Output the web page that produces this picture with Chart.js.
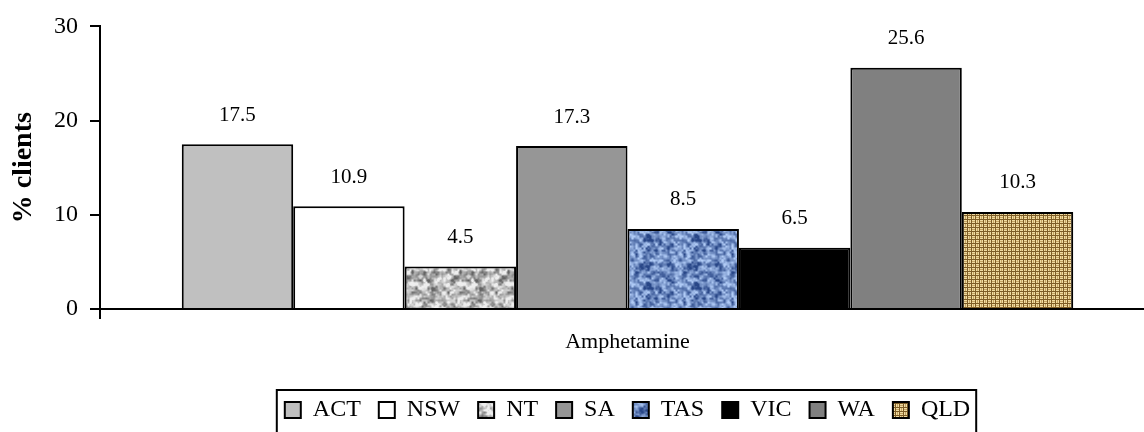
<!DOCTYPE html>
<html>
<head>
<meta charset="utf-8">
<script src="https://cdn.jsdelivr.net/npm/chart.js@4.4.0/dist/chart.umd.min.js"></script>
<style>
  html, body { margin: 0; padding: 0; background: #fff; overflow: hidden; }
  #wrap { width: 1155px; height: 432px; }
</style>
</head>
<body>
<div id="wrap"><canvas id="chart"></canvas></div>
<script>
const categories = ['Amphetamine'];
const states = ['ACT', 'NSW', 'NT', 'SA', 'TAS', 'VIC', 'WA', 'QLD'];
const values = [17.5, 10.9, 4.5, 17.3, 8.5, 6.5, 25.6, 10.3];
const yTicks = [0, 10, 20, 30];

const FONT = '"Liberation Serif", "DejaVu Serif", serif';

// small helpers for the textured fills
function hash(x, y, s) {
    const n = Math.sin(x * 127.1 + y * 311.7 + s * 74.7) * 43758.5453;
    return n - Math.floor(n);
}

function tileNoise(x, y, cell, size, seed) {
    const n = size / cell;
    const gx = x / cell, gy = y / cell;
    const x0 = Math.floor(gx), y0 = Math.floor(gy);
    const fx = gx - x0, fy = gy - y0;
    const sx = fx * fx * (3 - 2 * fx), sy = fy * fy * (3 - 2 * fy);
    const c = (i, j) => hash(((i % n) + n) % n, ((j % n) + n) % n, seed);
    const a = c(x0, y0), b = c(x0 + 1, y0), d = c(x0, y0 + 1), e = c(x0 + 1, y0 + 1);
    return (a * (1 - sx) + b * sx) * (1 - sy) + (d * (1 - sx) + e * sx) * sy;
}

function makeTile(size, paint) {
    const c = document.createElement('canvas');
    c.width = size;
    c.height = size;
    paint(c.getContext('2d'), size);
    return c;
}

function mottled(light, dark, seed, bias) {
    return makeTile(48, (g, size) => {
        for (let y = 0; y < size; y++) {
            for (let x = 0; x < size; x++) {
                let v = 0.6 * tileNoise(x, y, 4, size, seed) + 0.4 * tileNoise(x, y, 2, size, seed + 9);
                v = Math.min(1, Math.max(0, (v - bias) * 1.7));
                const r = Math.round(dark[0] + (light[0] - dark[0]) * v);
                const gg = Math.round(dark[1] + (light[1] - dark[1]) * v);
                const b = Math.round(dark[2] + (light[2] - dark[2]) * v);
                g.fillStyle = `rgb(${r},${gg},${b})`;
                g.fillRect(x, y, 1, 1);
            }
        }
    });
}

function burlap() {
    return makeTile(16, (g, size) => {
        g.fillStyle = '#7d5c26';
        g.fillRect(0, 0, size, size);
        for (let cy = 0; cy < 4; cy++) {
            for (let cx = 0; cx < 4; cx++) {
                const x = cx * 4, y = cy * 4;
                g.fillStyle = '#f0dca2';
                if ((cx + cy) % 2 === 0) {
                    g.fillRect(x, y, 3, 1);
                    g.fillRect(x, y + 2, 3, 1);
                } else {
                    g.fillRect(x, y, 1, 3);
                    g.fillRect(x + 2, y, 1, 3);
                }
                g.fillStyle = '#c6a463';
                if ((cx + cy) % 2 === 0) g.fillRect(x, y + 1, 3, 1);
                else g.fillRect(x + 1, y, 1, 3);
            }
        }
    });
}

const ctx = document.getElementById('chart').getContext('2d');
const fills = [
    '#c0c0c0',
    '#ffffff',
    ctx.createPattern(mottled([238, 238, 238], [100, 100, 100], 3, 0.15), 'repeat'),
    '#969696',
    ctx.createPattern(mottled([175, 202, 245], [40, 70, 135], 7, 0.2), 'repeat'),
    '#000000',
    '#808080',
    ctx.createPattern(burlap(), 'repeat')
];

const valueLabels = {
    id: 'valueLabels',
    afterDatasetsDraw(chart) {
        const c = chart.ctx;
        c.save();
        c.font = '21px ' + FONT;
        c.fillStyle = '#000';
        c.textAlign = 'center';
        c.textBaseline = 'middle';
        chart.data.datasets.forEach((ds, i) => {
            chart.getDatasetMeta(i).data.forEach((bar, j) => {
                c.fillText(ds.data[j].toFixed(1), bar.x, bar.y - 29);
            });
        });
        c.restore();
    }
};

const legendBorder = {
    id: 'legendBorder',
    afterDraw(chart) {
        const boxes = chart.legend.legendHitBoxes;
        if (!boxes || !boxes.length) return;
        const left = Math.min(...boxes.map(b => b.left)) - 8;
        const right = Math.max(...boxes.map(b => b.left + b.width)) + 6;
        const c = chart.ctx;
        c.save();
        c.strokeStyle = '#000';
        c.lineWidth = 2;
        c.strokeRect(left, 390, right - left, 60);
        c.restore();
    }
};

new Chart(ctx, {
    type: 'bar',
    data: {
        labels: categories,
        datasets: states.map((s, i) => ({
            label: s,
            data: [values[i]],
            backgroundColor: fills[i],
            borderColor: '#000',
            borderWidth: 2
        }))
    },
    options: {
        responsive: true,
        maintainAspectRatio: false,
        animation: false,
        layout: { padding: { top: 24, right: 0, bottom: 0, left: 0 } },
        datasets: {
            bar: { categoryPercentage: 0.845, barPercentage: 1 }
        },
        scales: {
            x: {
                grid: { drawOnChartArea: false, tickLength: 10, color: '#000', lineWidth: 2 },
                border: { color: '#000', width: 2 },
                ticks: { color: '#000', font: { family: FONT, size: 22 }, padding: 10 },
                afterFit: (scale) => { scale.height = 71; }
            },
            y: {
                min: 0,
                max: 30,
                afterBuildTicks: (scale) => { scale.ticks = yTicks.map(v => ({ value: v })); },
                grid: { drawOnChartArea: false, tickLength: 10, color: '#000', lineWidth: 2 },
                border: { color: '#000', width: 2 },
                ticks: { color: '#000', font: { family: FONT, size: 24 }, padding: 12 },
                title: {
                    display: true,
                    text: '% clients',
                    color: '#000',
                    font: { family: FONT, size: 28, weight: 'bold' },
                    padding: { top: 7, bottom: 0 }
                },
                afterFit: (scale) => { scale.width = 100; }
            }
        },
        plugins: {
            legend: {
                position: 'bottom',
                fullSize: false,
                labels: {
                    color: '#000',
                    font: { family: FONT, size: 24 },
                    boxWidth: 16,
                    boxHeight: 16,
                    padding: 18
                }
            },
            tooltip: { enabled: false }
        }
    },
    plugins: [valueLabels, legendBorder]
});
</script>
</body>
</html>
